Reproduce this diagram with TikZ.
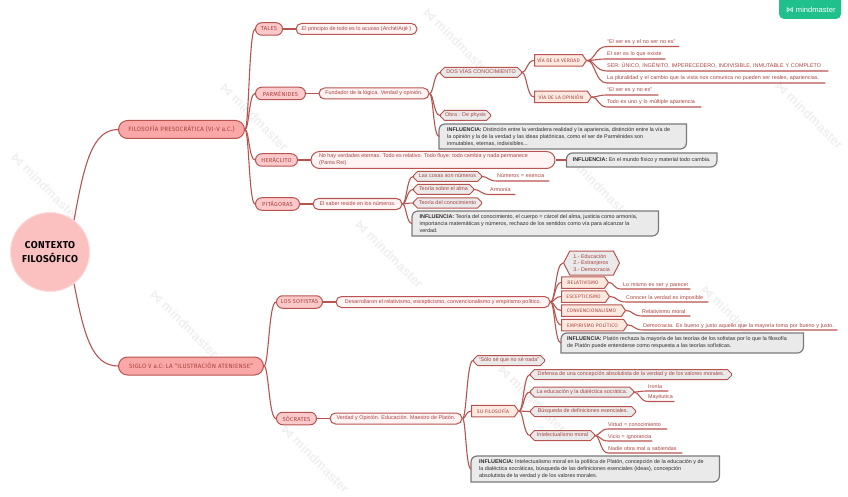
\documentclass[tikz,border=0pt]{standalone}
\usepackage{fontspec}
\setmainfont{Liberation Sans}
\newfontfamily\headfont[LetterSpace=4]{Fira Sans}
\newfontfamily\markfont{DejaVu Sans}
\usetikzlibrary{positioning, calc, shapes.misc, shapes.symbols, backgrounds}
\definecolor{linkred}{HTML}{B85450}
\definecolor{labelred}{HTML}{AA423F}
\definecolor{rootpink}{HTML}{FBC0C0}
\definecolor{mainpink}{HTML}{F9A7A7}
\definecolor{subpink}{HTML}{FBC9C9}
\definecolor{palepink}{HTML}{FFF3F3}
\definecolor{peach}{HTML}{FDE9DF}
\definecolor{softgrey}{HTML}{EAEAEA}
\definecolor{boxline}{HTML}{7A7A7A}
\definecolor{inktext}{HTML}{2B2B2B}
\definecolor{markgrey}{HTML}{EFEFEF}
\definecolor{badge}{HTML}{1FC08C}

\begin{document}
\begin{tikzpicture}[
      x=1pt, y=-1pt,
      node distance=12.5pt,
      every node/.style={font=\fontsize{5.4}{6.9}\selectfont, text=labelred, inner sep=0pt, anchor=west},
      link/.style={draw=linkred, line width=1.1pt},
      rootnode/.style={circle, fill=rootpink, draw=rootpink!55, line width=1pt, minimum size=79pt,
                       align=center, anchor=center, text=black,
                       font=\fontsize{10}{12.5}\selectfont\headfont\bfseries},
      mainnode/.style={rounded rectangle, fill=mainpink, draw=linkred, line width=1pt, minimum height=18pt,
                       font=\fontsize{6.2}{7}\selectfont\headfont},
      subnode/.style={rounded rectangle, fill=subpink, draw=linkred, line width=1pt, minimum height=12.5pt,
                      font=\fontsize{5.8}{7}\selectfont\headfont},
      pill/.style={rounded rectangle, fill=palepink, draw=linkred, line width=1pt, minimum height=11pt,
                   text height=4pt, text depth=1.2pt},
      notch/.style={chamfered rectangle, chamfered rectangle xsep=2pt, chamfered rectangle ysep=2pt,
                    fill=softgrey, draw=linkred, line width=1pt, minimum height=10pt,
                    text height=4pt, text depth=1.2pt},
      flag/.style={signal, signal to=east, signal pointer angle=110, fill=peach, draw=linkred,
                   line width=1pt, minimum height=11.5pt, font=\fontsize{5}{6}\selectfont\headfont},
      leaf/.style={anchor=south west, inner ysep=1.6pt, text height=4pt, text depth=1.2pt,
                   text width=#1, align=left},
      influence/.style={align=left, text=inktext, minimum height=14pt},
      cornerbox/.style={fill=softgrey, draw=boxline, line width=1.2pt},
      watermark/.style={rotate=-45, text=markgrey, font=\fontsize{13}{13}\selectfont\bfseries},
    ]
    \useasboundingbox (0,0) rectangle (848,497);
    \clip (0,0) rectangle (848,497);

    \begin{scope}[on background layer]
      \foreach \wx/\wy in {13/155, 222/85, 425/10, 152/292, 357/222, 567/155, 777/83,
                           283/427, 500/367, 703/287}
        \node[watermark] at (\wx,\wy) {{\markfont\char"22C8} mindmaster};
    \end{scope}

    \fill[badge, rounded corners=5pt] (779,-8) rectangle (841,19);
    \node[text=white, font=\fontsize{7.6}{8}\selectfont] (brand) at (786,9.5) {{\markfont\char"22C8}\ mindmaster};

    \node[rootnode] (root) at (50,252) {CONTEXTO\\[1pt]FILOSÓFICO};

    \node[mainnode, minimum width=126pt] (preso) at (118,129.5) {FILOSOFÍA PRESOCRÁTICA (VI-V a.C.)};
    \node[mainnode, minimum width=145pt] (siglo) at (118,366) {SIGLO V a.C: LA “ILUSTRACIÓN ATENIENSE”};

    \node[subnode, minimum width=27pt] (tales) at (255,29) {TALES};
    \node[subnode, minimum width=50pt] (parme) at (255,93.5) {PARMÉNIDES};
    \node[subnode, minimum width=42pt] (hera)  at (255,160) {HERÁCLITO};
    \node[subnode, minimum width=44pt] (pita)  at (255,204) {PITÁGORAS};
    \node[subnode, minimum width=46pt] (sofis) at (276,302) {LOS SOFISTAS};
    \node[subnode, minimum width=40pt] (socra) at (276,418.5) {SÓCRATES};

    \node[pill, minimum width=121pt, right=of tales] (acuoso)  {El principio de todo es lo acuoso (Arché/Arjé )};
    \node[pill, minimum width=110pt, right=of parme] (fundador) {Fundador de la lógica. Verdad y opinión.};
    \node[rounded rectangle, fill=palepink, draw=linkred, line width=1pt, minimum width=244pt,
          minimum height=17pt, right=of hera] (panta)
          {\parbox{228pt}{No hay verdades eternas. Todo es relativo. Todo fluye: todo cambia y nada permanece\\(Panta Rei)}};
    \node[pill, minimum width=89pt, right=of pita] (saber) {El saber reside en los números.};
    \node[pill, minimum width=214pt, right=of sofis] (desarr)
          {Desarrollaron el relativismo, escepticismo, convencionalismo y empirismo político.};
    \node[pill, minimum width=132pt, right=of socra] (maestro) {Verdad y Opinión. Educación. Maestro de Platón.};

    \node[notch, minimum width=81pt] (dosvias) at (440,72.5) {DOS VÍAS CONOCIMIENTO};
    \node[notch, minimum width=50pt] (obra)    at (440,115.5) {Obra : De physis};
    \node[flag, minimum width=52pt] (verdad)  at (534,60.5) {VÍA DE LA VERDAD};
    \node[flag, minimum width=57pt] (opinion) at (534,97) {VÍA DE LA OPINIÓN};

    \node[leaf=72pt]  (noser)  at (607,46.5) {“El ser es y el no ser no es”};
    \node[leaf=58pt]  (existe) at (607,59) {El ser es lo que existe};
    \node[leaf=221pt] (unico)  at (607,71) {SER: ÚNICO, INGÉNITO, IMPERECEDERO, INDIVISIBLE, INMUTABLE Y COMPLETO};
    \node[leaf=218pt] (plural) at (607,83) {La pluralidad y el cambio que la vista nos comunica no pueden ser reales, apariencias.};
    \node[leaf=51pt]  (esnoes) at (607,95) {“El ser es y no es”};
    \node[leaf=94pt]  (multi)  at (607,107) {Todo es uno y lo múltiple apariencia};

    \node[notch, minimum width=68pt] (cosas) at (413,176.5) {Las cosas son números};
    \node[notch, minimum width=60pt] (alma)  at (413,189.5) {Teoría sobre el alma};
    \node[notch, minimum width=68pt] (conoc) at (413,203) {Teoría del conocimiento};
    \node[leaf=52pt] (esencia) at (497,181) {Números = esencia};
    \node[leaf=25pt] (armonia) at (490,194.5) {Armonía};

    \node[signal, signal to=east and west, signal pointer angle=125, fill=softgrey,
          draw=linkred, line width=1pt, minimum width=56pt, minimum height=24pt, align=left] (hexa) at (563,263)
          {1.- Educación\\2.- Extranjeros\\3.- Democracia};
    \node[flag, minimum width=47pt] (relat) at (561,282.5) {RELATIVISMO};
    \node[flag, minimum width=48pt] (escep) at (561,296.5) {ESCEPTICISMO};
    \node[flag, minimum width=64pt] (conve) at (561,310.5) {CONVENCIONALISMO};
    \node[flag, minimum width=66pt] (empir) at (561,325) {EMPIRISMO POLÍTICO};
    \node[leaf=69pt]  (parecer) at (621,289) {\hspace*{2pt}Lo mismo es ser y parecer};
    \node[leaf=82pt]  (imposib) at (626,302) {Conocer la verdad es imposible};
    \node[leaf=48pt]  (moral)   at (642,316) {Relativismo moral};
    \node[leaf=194pt] (demo)    at (643,330) {Democracia. Es bueno y justo aquello que la mayoría toma por bueno y justo.};

    \node[notch, minimum width=71pt] (solo) at (473,360.5) {“Sólo sé que no sé nada”};
    \node[flag, minimum width=47pt] (filos) at (471,411) {SU FILOSOFÍA};
    \node[notch, minimum width=201pt] (defensa) at (530,374.5) {Defensa de una concepción absolutista de la verdad y de los valores morales.};
    \node[notch, minimum width=103pt] (dialec)  at (530,392) {La educación y la dialéctica socrática.};
    \node[notch, minimum width=105pt] (busca)   at (530,411.5) {Búsqueda de definiciones esenciales.};
    \node[notch, minimum width=64pt]  (intel)   at (530,435.5) {Intelectualismo moral};
    \node[leaf=20pt] (ironia)  at (648,391) {Ironía};
    \node[leaf=26pt] (mayeu)   at (648,401.5) {Mayéutica};
    \node[leaf=59pt] (virtud)  at (608,429) {Virtud = conocimiento};
    \node[leaf=44pt] (vicio)   at (608,441) {Vicio = ignorancia};
    \node[leaf=74pt] (nadie)   at (608,453) {Nadie obra mal a sabiendas};

    \node[influence, minimum width=247pt] (inflparme) at (439,136.5) {\hspace*{4pt}\parbox{235pt}{\textbf{INFLUENCIA:} Distinción entre la verdadera realidad y la apariencia, distinción entre la vía de\\la opinión y la de la verdad y las ideas platónicas, como el ser de Parménides son\\inmutables, eternas, indivisibles...}};
    \node[influence, minimum width=150pt, right=11pt of panta] (inflhera) {\textbf{INFLUENCIA:} En el mundo físico y material todo cambia.};
    \node[influence, minimum width=246pt] (inflpita) at (412,223.5) {\hspace*{4pt}\parbox{235pt}{\textbf{INFLUENCIA:} Teoría del conocimiento, el cuerpo = cárcel del alma, justicia como armonía,\\importancia matemáticas y números, rechazo de los sentidos como vía para alcanzar la\\verdad.}};
    \node[influence, minimum width=242pt] (inflsofis) at (561,343) {\hspace*{2pt}\parbox{232pt}{\textbf{INFLUENCIA:} Platón rechaza la mayoría de las teorías de los sofistas por lo que la filosofía\\de Platón puede entenderse como respuesta a las teorías sofísticas.}};
    \node[influence, minimum width=248pt] (inflsocra) at (471,469) {\hspace*{4pt}\parbox{236pt}{\textbf{INFLUENCIA:} Intelectualismo moral en la política de Platón, concepción de la educación y de\\la dialéctica socráticas, búsqueda de las definiciones esenciales (ideas), concepción\\absolutista de la verdad y de los valores morales.}};

    \begin{scope}[on background layer]
      \foreach \infl/\tall in {inflparme/12.5, inflhera/7, inflpita/12.5, inflsofis/10, inflsocra/13}
        \draw[cornerbox] (\infl.west)
          [rounded corners=6pt] -- ($(\infl.west)+(0,-\tall)$) [sharp corners] -- ($(\infl.east)+(0,-\tall)$)
          [rounded corners=6pt] -- ($(\infl.east)+(0,\tall)$) [sharp corners] -- ($(\infl.west)+(0,\tall)$) -- cycle;
    \end{scope}

    \draw[link] (root.53) .. controls (84,165) and (92,129.5) .. (preso.west);
    \draw[link] (root.-53) .. controls (84,335) and (92,366) .. (siglo.west);

    \foreach \upn/\dnn in {preso/tales, preso/parme, preso/hera, preso/pita, siglo/sofis, siglo/socra,
                           tales/acuoso, parme/fundador, hera/panta, pita/saber, sofis/desarr, socra/maestro,
                           panta/inflhera,
                           fundador/dosvias, fundador/obra, fundador/inflparme, dosvias/verdad, dosvias/opinion,
                           saber/cosas, saber/alma, saber/conoc, saber/inflpita,
                           desarr/hexa, desarr/relat, desarr/escep, desarr/conve, desarr/empir, desarr/inflsofis,
                           maestro/solo, maestro/filos, maestro/inflsocra,
                           filos/defensa, filos/dialec, filos/busca, filos/intel}
      \draw[link] (\upn.east) .. controls ($(\upn.east)!.4!(\upn.east -| \dnn.west)$)
                              and ($(\dnn.west -| \upn.east)!.4!(\dnn.west)$) .. (\dnn.west);

    \foreach \upn/\dnn in {verdad/noser, verdad/existe, verdad/unico, verdad/plural, opinion/esnoes, opinion/multi,
                           cosas/esencia, alma/armonia, relat/parecer, escep/imposib, conve/moral, empir/demo,
                           dialec/ironia, dialec/mayeu, intel/virtud, intel/vicio, intel/nadie}
      \draw[link] (\upn.east) .. controls ($(\upn.east)!.4!(\upn.east -| \dnn.south west)$)
                              and ($(\dnn.south west -| \upn.east)!.4!(\dnn.south west)$) .. (\dnn.south west) -- (\dnn.south east);
  \end{tikzpicture}
\end{document}
